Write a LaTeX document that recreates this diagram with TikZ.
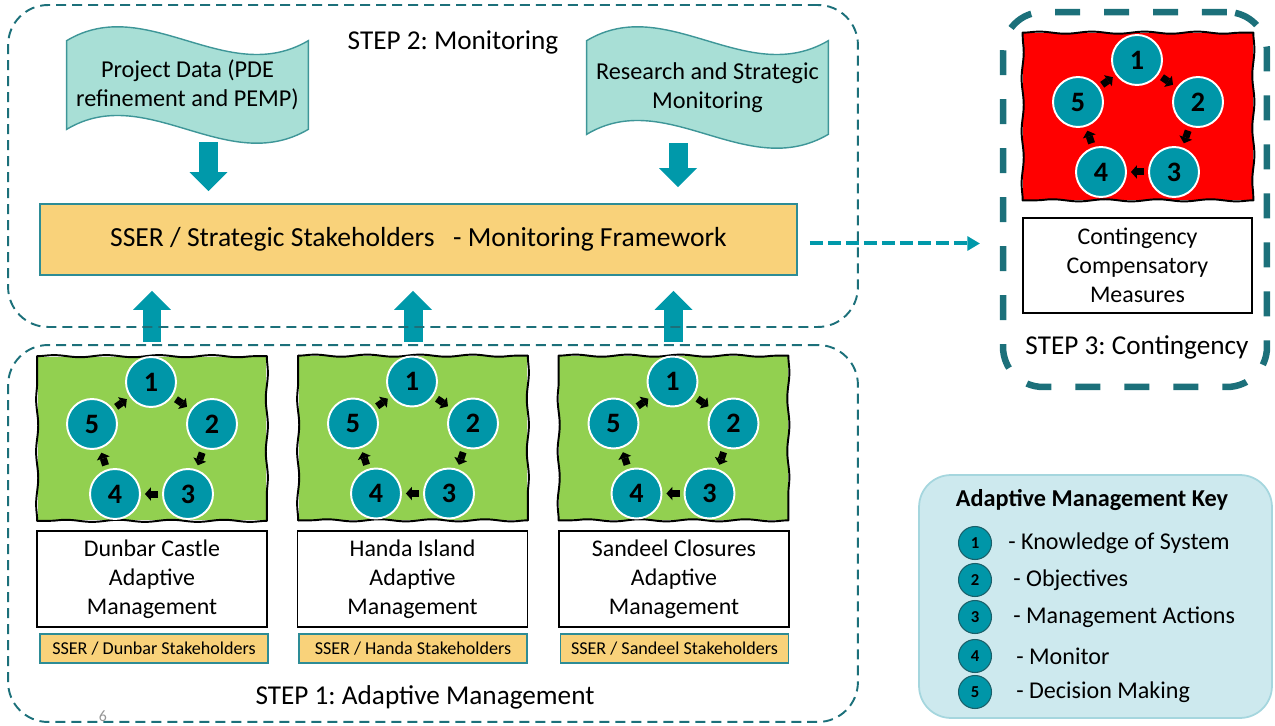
\documentclass[tikz,border=0pt]{standalone}
\usepackage{fontspec}
\setmainfont{Carlito}
\usetikzlibrary{arrows.meta,calc,decorations.pathmorphing,backgrounds}

\definecolor{tealdark}{RGB}{28,112,122}
\definecolor{tealmid}{RGB}{0,150,168}
\definecolor{tealarrow}{RGB}{0,153,170}
\definecolor{tealedge}{RGB}{45,140,150}
\definecolor{wavefill}{RGB}{168,223,214}
\definecolor{waveline}{RGB}{62,150,152}
\definecolor{boxorange}{RGB}{249,210,122}
\definecolor{panelgreen}{RGB}{146,208,80}
\definecolor{panelred}{RGB}{255,0,0}
\definecolor{keyfill}{RGB}{205,233,238}
\definecolor{keyline}{RGB}{165,214,222}
\definecolor{keydotline}{RGB}{25,95,105}
\definecolor{pagegrey}{RGB}{150,150,150}

% one adaptive-management cycle of five stages inside a panel
% #1 = panel node, #2 = prefix for the stage node names
\newcommand\amcycle[2]{%
  \foreach \k/\dx/\dy in {1/-1/-56.5, 2/60/-14.5, 3/36/55.5, 4/-37/55.5, 5/-60/-14.5}
    \node[stage] (#2\k) at ($(#1.center)+(\dx,\dy)$) {\k};
  \foreach \a/\b in {1/2,2/3,3/4,4/5,5/1}
    \draw[cyc] ($(#2\a)!0.41!(#2\b)$) -- ($(#2\a)!0.59!(#2\b)$);
}
% hand-drawn looking outline round a panel node
\newcommand\wobblyframe[1]{%
  \draw[wavyedge] (#1.north west) -- (#1.north east);
  \draw[wavyedge] (#1.north east) -- (#1.south east);
  \draw[wavyedge] (#1.south east) -- (#1.south west);
  \draw[wavyedge] (#1.south west) -- (#1.north west);
}

\begin{document}
\frenchspacing
\begin{tikzpicture}[x=0.02cm, y=-0.02cm,
  every node/.style={text=black},
  stepbox/.style={draw=tealdark, line width=1.1pt, dash pattern=on 0.2cm off 0.12cm,
    rounded corners=0.8cm, inner sep=0},
  contbox/.style={draw=tealdark, line width=0.13cm, dash pattern=on 0.5cm off 0.48cm,
    rounded corners=0.8cm, inner sep=0},
  keybox/.style={draw=keyline, fill=keyfill, line width=1pt, rounded corners=0.64cm,
    inner sep=0, minimum width=7.06cm, minimum height=4.86cm},
  steplabel/.style={font=\fontsize{15.5}{18}\selectfont, inner sep=0},
  wavetext/.style={inner sep=0, align=center, minimum width=4.82cm,
    font=\fontsize{13.8}{16.2}\selectfont},
  waveshape/.style={fill=wavefill, draw=waveline, line width=0.8pt},
  mainbox/.style={fill=boxorange, draw=tealedge, line width=1pt, minimum width=15.14cm,
    minimum height=1.42cm, inner sep=0, font=\fontsize{15.7}{18}\selectfont},
  panelbox/.style={inner sep=0, minimum width=4.58cm, minimum height=3.28cm},
  wavyedge/.style={draw=black, line width=1.1pt, line cap=round, decorate,
    decoration={snake, amplitude=0.6pt, segment length=30pt}},
  stage/.style={circle, fill=tealmid, draw=white, line width=1.1pt, minimum size=1.0cm,
    inner sep=0, font=\fontsize{16}{17}\selectfont\bfseries},
  cyc/.style={black, line width=0.14cm,
    -{Triangle[length=0.12cm, width=0.27cm, line width=0pt]}},
  txtbox/.style={draw=black, fill=white, line width=0.85pt, minimum width=4.6cm,
    minimum height=1.92cm, inner sep=0, align=center, font=\fontsize{13.6}{16.5}\selectfont},
  smallbox/.style={draw=tealedge, fill=boxorange, line width=0.9pt, minimum width=4.56cm,
    minimum height=0.58cm, inner sep=0, font=\fontsize{10.3}{12}\selectfont},
  blk/.style={tealarrow, line width=0.38cm,
    -{Triangle[length=0.38cm, width=0.76cm, line width=0pt]}},
  dasharr/.style={tealarrow, line width=0.08cm, dash pattern=on 0.26cm off 0.1cm,
    -{Triangle[length=0.25cm, width=0.3cm, line width=0pt]}},
  keydot/.style={circle, fill=tealmid, draw=keydotline, line width=0.6pt, minimum size=0.66cm,
    inner sep=0, font=\fontsize{9.5}{10}\selectfont\bfseries},
  keytext/.style={inner sep=0, anchor=west, font=\fontsize{13.7}{15}\selectfont}
]
\useasboundingbox (0,0) rectangle (1275,726);

% ---------- STEP 2: monitoring inputs ----------
\node[wavetext, minimum height=1.76cm] (pd) at (187.5,85) {Project Data (PDE\\refinement and PEMP)};
\node[wavetext, minimum height=1.86cm] (rs) at (707.5,87.5) {Research and Strategic\\Monitoring};
\begin{scope}[on background layer]
  \foreach \w in {pd,rs}
    \draw[waveshape] (\w.north west)
      .. controls ($(\w.north west)+(80,-48)$) and ($(\w.north west)+(160,48)$) .. (\w.north east)
      -- (\w.south east)
      .. controls ($(\w.south west)+(160,48)$) and ($(\w.south west)+(80,-48)$) .. (\w.south west)
      -- cycle;
\end{scope}

\node[mainbox] (ssr) at (418.5,239.5) {SSER / Strategic Stakeholders\ \ \ - Monitoring Framework};

\draw[blk] ($(pd.south)+(21,13)$) -- ($(ssr.north -| pd.south)+(21,-12)$);
\draw[blk] ($(rs.south)+(-29.5,9)$) -- ($(ssr.north -| rs.south)+(-29.5,-16)$);

% ---------- STEP 1: three adaptive management panels ----------
\node[panelbox, fill=panelgreen] (p1) at (152,438.5) {};
\node[panelbox, fill=panelgreen] (p2) at (413,438) {};
\node[panelbox, fill=panelgreen] (p3) at (673.5,438) {};
\wobblyframe{p1}
\wobblyframe{p2}
\wobblyframe{p3}
\amcycle{p1}{a}
\amcycle{p2}{b}
\amcycle{p3}{c}

\node[txtbox] (t1) at (152,579) {Dunbar Castle\\Adaptive\\Management};
\node[txtbox] (t2) at (412.5,579) {Handa Island\\Adaptive\\Management};
\node[txtbox] (t3) at (674,579) {Sandeel Closures\\Adaptive\\Management};

\node[smallbox] (o1) at (154,648.5) {SSER / Dunbar Stakeholders};
\node[smallbox] (o2) at (413,648.5) {SSER / Handa Stakeholders};
\node[smallbox] (o3) at (674.5,648.5) {SSER / Sandeel Stakeholders};

\foreach \p in {p1,p2,p3}
  \draw[blk] ($(\p.north)+(0,-14)$) -- ($(ssr.south -| \p.north)+(0,15)$);

% ---------- dashed stage frames ----------
\node[stepbox, minimum width=17cm, minimum height=6.44cm] (s2) at (433,166) {};
\node[stepbox, minimum width=17cm, minimum height=7.54cm] (s1) at (433,533.5) {};
\node[steplabel] (l2) at (453,42) {STEP 2: Monitoring};
\node[steplabel] (l1) at (425,697) {STEP 1: Adaptive Management};
\node[text=pagegrey, inner sep=0, font=\fontsize{9}{10}\selectfont] (pg) at (103,716) {6};

% ---------- STEP 3: contingency ----------
\node[contbox, minimum width=5.28cm, minimum height=7.5cm] (st3) at (1135,199.5) {};
\node[panelbox, fill=panelred, minimum width=4.6cm, minimum height=3.34cm] (pr) at (1138,116.5) {};
\wobblyframe{pr}
\amcycle{pr}{r}
\node[txtbox, minimum width=4.58cm, minimum height=1.9cm] (tc) at (1137.5,265.5) {Contingency\\Compensatory\\Measures};
\node[steplabel] (l3) at (1137,347) {STEP 3: Contingency};

\draw[dasharr] ($(ssr.east)+(12,4)$) -- ($(ssr.east -| st3.west)+(-20,4)$);

% ---------- key ----------
\node[keybox] (key) at (1095.5,596.5) {};
\node[inner sep=0, font=\fontsize{13.8}{15}\selectfont\bfseries] (kt) at (1092,500) {Adaptive Management Key};
\foreach \n/\yy/\lx/\txt in {1/543/1008/Knowledge of System, 2/580/1013/Objectives,
    3/617/1013/Management Actions, 4/656/1016/Monitor, 5/692/1016/Decision Making}{
  \node[keydot] (k\n) at (975,\yy) {\n};
  \node[keytext] (kl\n) at (\lx,\yy) {- \txt};
}
\end{tikzpicture}
\end{document}
